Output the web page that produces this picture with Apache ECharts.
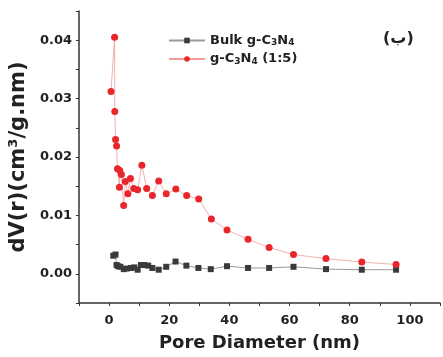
<!DOCTYPE html>
<html>
<head>
<meta charset="utf-8">
<script src="https://cdn.jsdelivr.net/npm/echarts@6/dist/echarts.min.js"></script>
<style>
  html, body { margin: 0; padding: 0; background: #fff; }
  #chart { width: 443px; height: 357px; }
</style>
</head>
<body>
<div id="chart"></div>
<script>
// pore diameter (nm) / dV(r)
const bulkX = [1.4, 2.16, 2.5, 3.0, 3.8, 4.9, 5.9, 7.3, 8.4, 9.5, 10.6, 11.7, 13.0, 14.4, 16.5, 19.0, 22.1, 25.7, 29.7, 33.8, 39.2, 46.2, 53.2, 61.3, 72.1, 84.0, 95.4];
const bulkY = [0.0031, 0.0033, 0.0015, 0.0013, 0.0012, 0.0008, 0.0009, 0.0010, 0.0011, 0.0007, 0.0015, 0.0015, 0.0014, 0.0010, 0.0007, 0.0012, 0.0021, 0.0014, 0.0010, 0.0008, 0.0013, 0.0010, 0.0010, 0.0012, 0.0008, 0.0007, 0.0007];

const ratioX = [0.65, 1.84, 1.9, 2.16, 2.5, 2.8, 3.45, 3.56, 4.1, 4.86, 5.4, 6.26, 7.1, 8.2, 9.5, 10.9, 12.5, 14.4, 16.5, 19.0, 22.2, 25.8, 29.8, 34.0, 39.2, 46.2, 53.2, 61.3, 72.1, 84.0, 95.4];
const ratioY = [0.0312, 0.0405, 0.0278, 0.0230, 0.0219, 0.0180, 0.0148, 0.0177, 0.0170, 0.0117, 0.0158, 0.0137, 0.0163, 0.0146, 0.0144, 0.0186, 0.0146, 0.0134, 0.0159, 0.0137, 0.0145, 0.0134, 0.0128, 0.0094, 0.0075, 0.0059, 0.0045, 0.0033, 0.0026, 0.0020, 0.0016];

const FONT = 'DejaVu Sans, sans-serif';

const pairs = (xs, ys) => xs.map((x, i) => [x, ys[i]]);

const chart = echarts.init(document.getElementById('chart'));
chart.setOption({
  animation: false,
  backgroundColor: '#fff',
  grid: { left: 75, top: 11, width: 370, height: 300.5 },
  legend: {
    left: 163, top: 29,
    orient: 'vertical',
    itemGap: 5,
    itemWidth: 36, itemHeight: 7,
    data: ['Bulk g-C3N4', 'g-C3N4 (1:5)'],
    formatter: name => name.replace('C3N4', 'C{s|3}N{s|4}'),
    textStyle: {
      fontFamily: FONT, fontWeight: 'bold', fontSize: 13, color: '#222',
      rich: {
        s: { fontFamily: FONT, fontWeight: 'bold', fontSize: 9, color: '#222', padding: [5, 0, 0, 0] }
      }
    }
  },
  graphic: [{
    type: 'text', left: 383, top: 31,
    style: { text: '(ب)', font: 'bold 16px ' + FONT, fill: '#222' }
  }],
  xAxis: {
    type: 'value', min: -10, max: 110, interval: 10,
    name: 'Pore Diameter (nm)', nameLocation: 'middle', nameGap: 31,
    nameTextStyle: { fontFamily: FONT, fontWeight: 'bold', fontSize: 18, color: '#222' },
    axisLine: { onZero: false, lineStyle: { color: '#333', width: 1.5 } },
    axisTick: { length: 3, lineStyle: { color: '#333' } },
    splitLine: { show: false },
    axisLabel: {
      fontFamily: FONT, fontWeight: 'bold', fontSize: 13, color: '#222', margin: 11,
      formatter: v => (v >= 0 && v <= 100 && v % 20 === 0) ? String(v) : ''
    }
  },
  yAxis: {
    type: 'value', min: -0.005, max: 0.045, interval: 0.005,
    name: 'dV(r)(cm³/g.nm)', nameLocation: 'middle', nameGap: 42,
    nameTextStyle: { fontFamily: FONT, fontWeight: 'bold', fontSize: 21, color: '#222' },
    axisLine: { show: true, onZero: false, lineStyle: { color: '#333', width: 1.5 } },
    axisTick: { show: true, length: 3, lineStyle: { color: '#333' } },
    splitLine: { show: false },
    axisLabel: {
      fontFamily: FONT, fontWeight: 'bold', fontSize: 13, color: '#222', margin: 7,
      formatter: v => {
        const k = Math.round(v * 200);
        return (k >= 0 && k % 2 === 0 && k <= 8) ? v.toFixed(2) : '';
      }
    }
  },
  series: [
    {
      name: 'Bulk g-C3N4',
      type: 'line',
      data: pairs(bulkX, bulkY),
      symbol: 'rect', symbolSize: 6,
      itemStyle: { color: '#3a3a3a' },
      lineStyle: { color: '#9a9a9a', width: 1 }
    },
    {
      name: 'g-C3N4 (1:5)',
      type: 'line',
      data: pairs(ratioX, ratioY),
      symbol: 'circle', symbolSize: 7,
      itemStyle: { color: '#e8262c' },
      lineStyle: { color: '#f39a9a', width: 0.8 }
    }
  ]
});
</script>
</body>
</html>
